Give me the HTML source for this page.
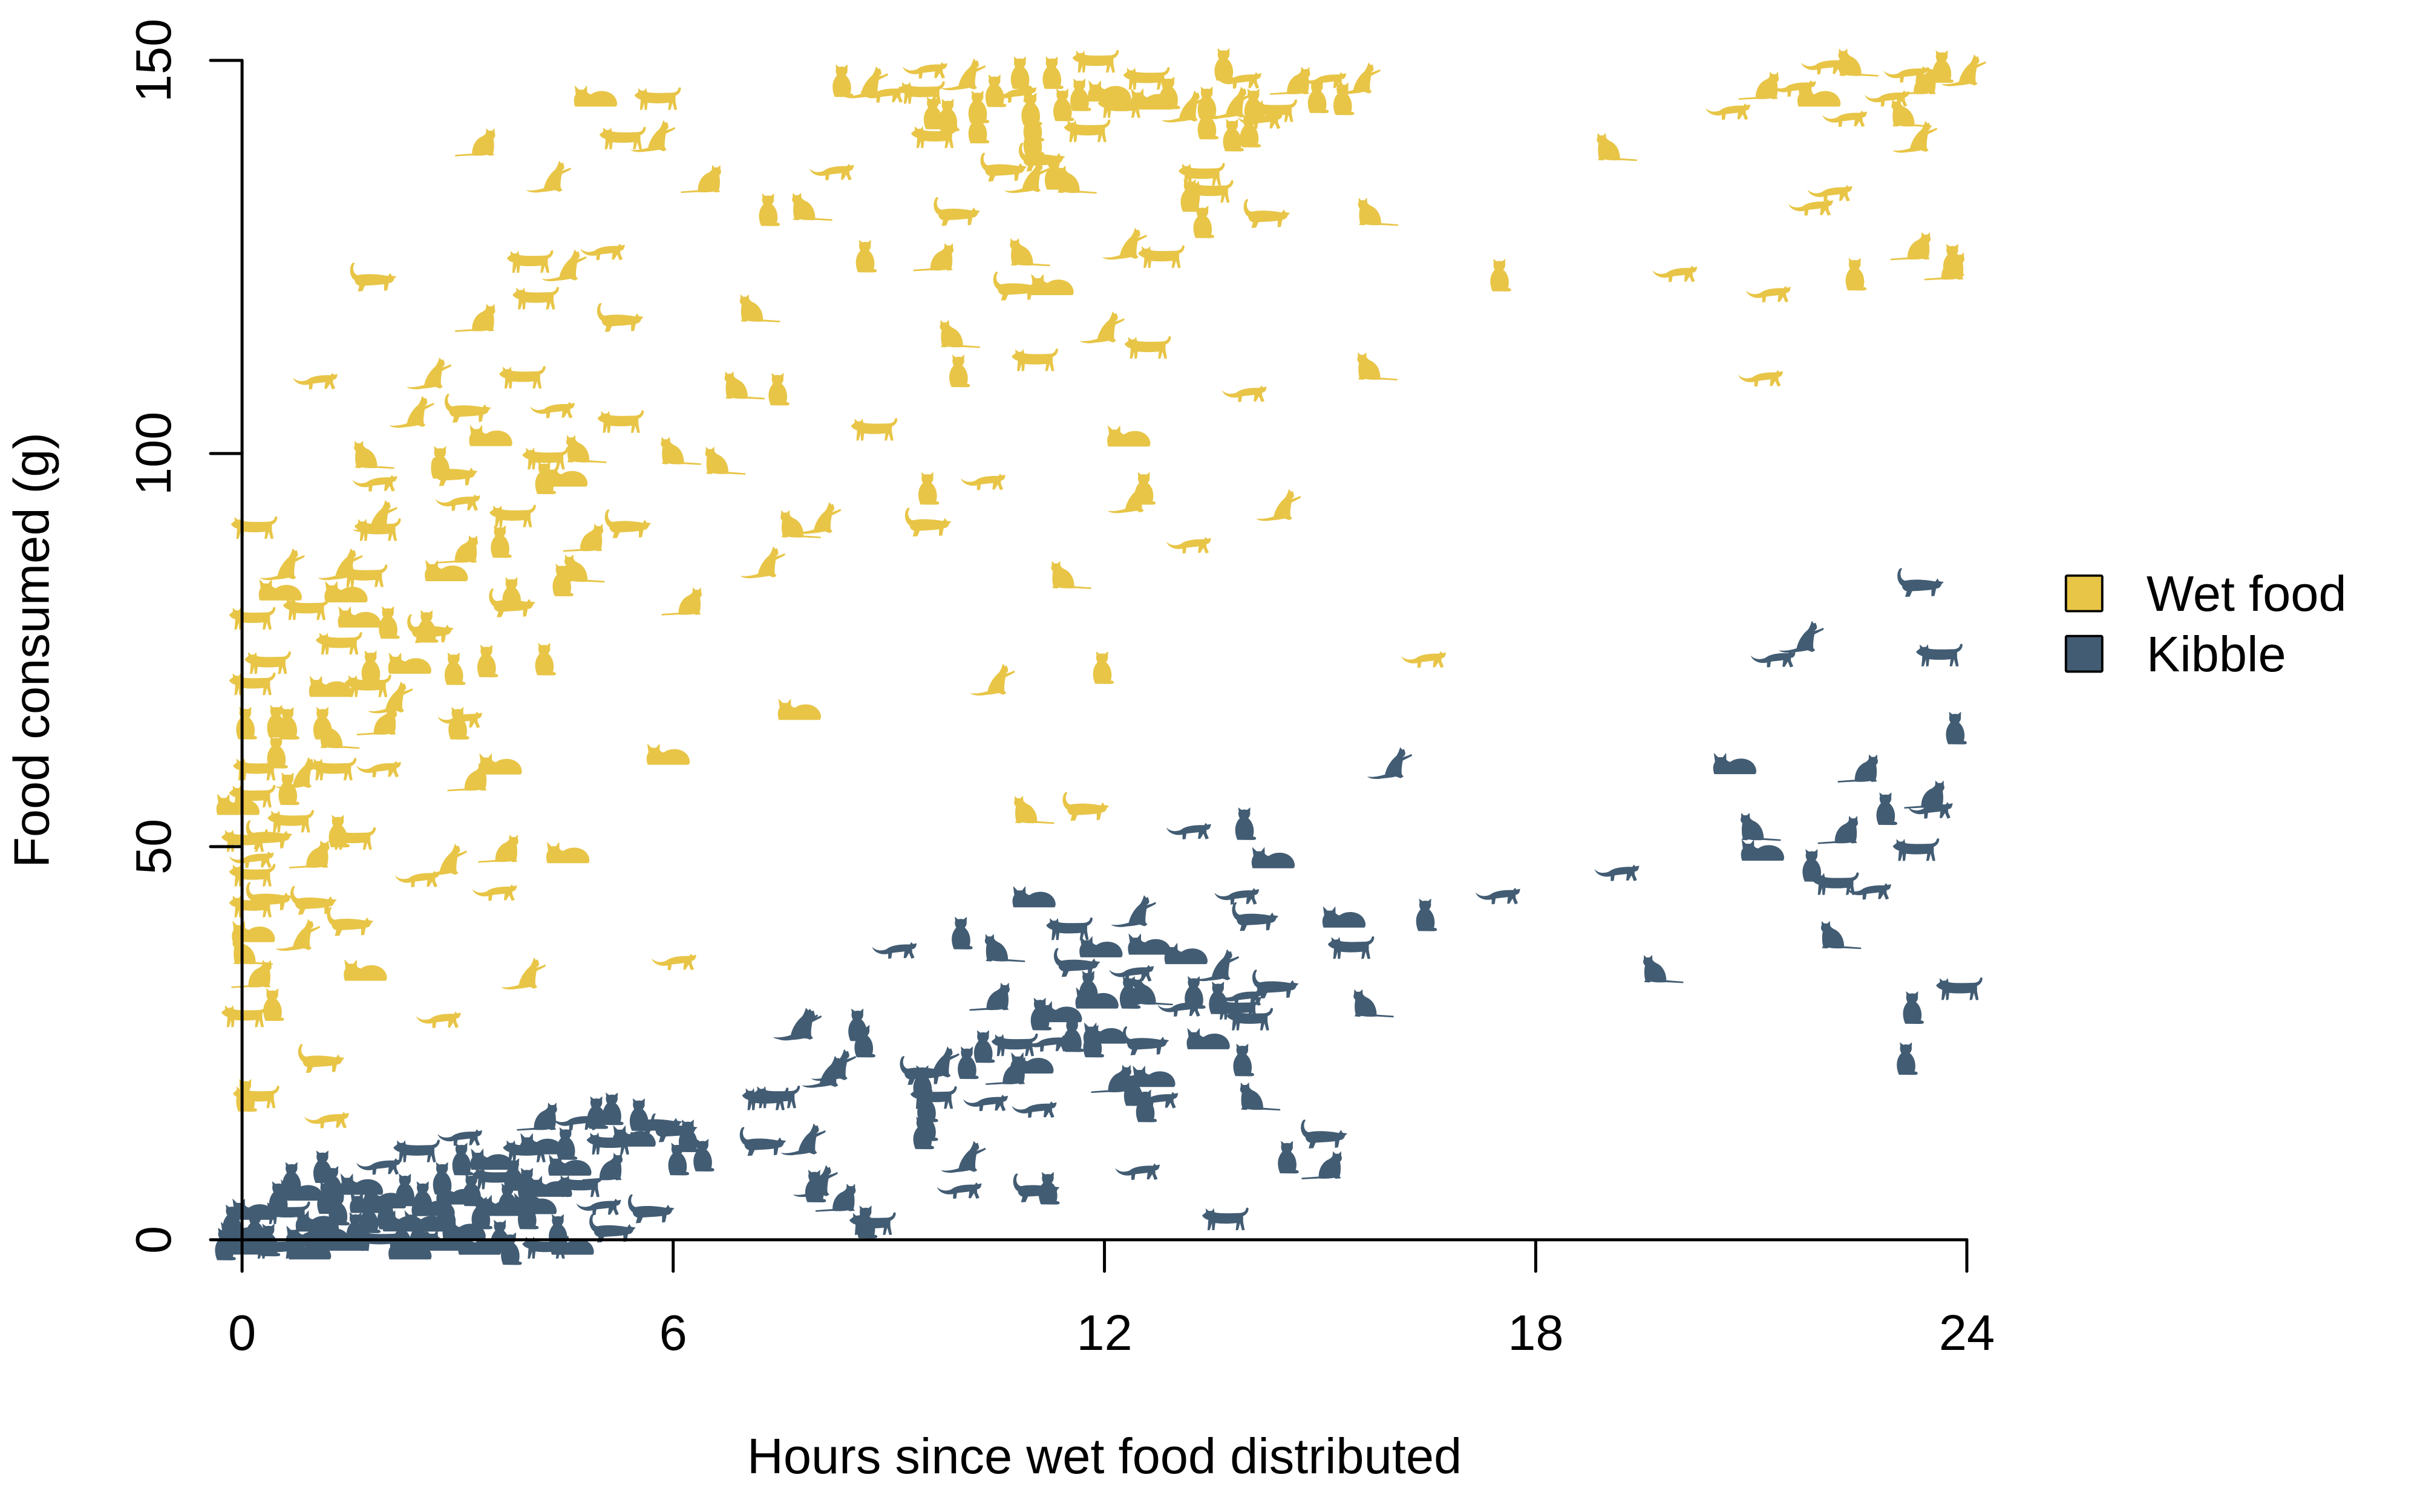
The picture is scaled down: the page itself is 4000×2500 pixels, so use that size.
<!DOCTYPE html>
<html>
<head>
<meta charset="utf-8">
<style>
html,body{margin:0;padding:0;background:#fff;}
svg{display:block;}
text{font-family:"Liberation Sans",Arial,sans-serif;fill:#000;}
</style>
</head>
<body>
<svg width="4000" height="2500" viewBox="0 0 1565.56 978.47" xmlns="http://www.w3.org/2000/svg">
<defs>
<path id="A" d="M-14,8.2 L-3,7.4 C-3,3 -1,-1.5 3,-3.5 C4.5,-4.2 5.5,-5 6,-6 L6.2,-9 L7.8,-7.4 L10,-7.4 L11.5,-9 L11.6,-6 C12.4,-4.5 11.8,-3 10.8,-2.3 C11.4,0.5 11.4,4.5 10.6,7.2 L11.4,8.5 L8,8.8 L7,8.2 C4,8.9 -1,8.8 -3,8.6 L-14,9.2 Z"/>
<path id="B" d="M-4.5,10.5 C-6.8,5 -6.2,0 -3,-3.5 C-3.8,-5 -4.1,-6.5 -3.6,-8 L-4,-10.5 L-1.8,-8.9 C-0.5,-9.2 0.8,-9.2 1.8,-8.9 L3.9,-10.5 L3.7,-7.5 C4,-5.8 3.4,-4.5 2.5,-3.5 C5.6,-1 6.9,4 5.6,8.4 C6.6,8.3 7.6,8.8 7.6,9.6 C7.6,10.6 6,10.6 4.5,10.6 Z"/>
<path id="C" d="M-15.5,-2.5 L-13,-4.5 L-13.2,-7 L-11.2,-5.3 L-9,-5.5 L-8,-7.2 L-7.5,-4.5 C-5,-3.6 3,-3.8 9,-4 C11,-4.2 12.5,-5 12.8,-6.5 C13,-7.8 14.6,-7.8 14.5,-6.5 C14.3,-4.3 12.8,-2.8 11,-2 L11,1.5 L12,7 L10.3,7.2 L9,2.5 L7.8,7 L6.2,7.2 L6.8,2.5 C2,3 -3,3 -7,2.5 L-7.5,7 L-9,7.2 L-9.2,2.5 L-10.5,7 L-12,7.2 L-11.5,0.5 C-13,0 -15,-1 -15.5,-2.5 Z"/>
<path id="D" d="M-11.5,2 C-14.5,0 -15.5,-5 -13.5,-8.5 C-12.5,-10 -11,-9.5 -11.8,-8.5 C-13.2,-6 -12.5,-2 -9.5,-1.3 C-4,-2.5 4,-2 10,-0.8 L11.5,-2.8 L12.4,-1 L15.5,-0.5 L14,1 C13.5,3 12,3.8 10.5,3.8 L9.5,8.5 L7.5,8.8 L7.5,4.5 C3,5.2 -2,5.2 -5,5.5 L-6.5,9 L-9.5,9.2 L-8.5,5.5 C-10.5,5 -11.5,3.5 -11.5,2 Z"/>
<path id="E" d="M-13,7 C-14,4 -14,1 -12.5,-1 L-13.3,-6.8 L-10.5,-4 L-7.5,-4 L-5.3,-6.8 L-5.2,-2.5 C-4.5,-1.5 -3.5,-1 -2.5,-1 C2,-4.5 12,-4 14,3.5 C14.5,5.5 14,7 13,7 Z"/>
<path id="F" d="M-15.5,8.5 C-12,9.3 -7,8.2 -4,7.2 C-3.2,3 -0.5,-1.5 3,-4.5 C4,-5.5 4.5,-7 5,-8 L5.8,-10.5 L7.2,-8.8 L8.3,-9.3 L9,-7.2 C9.5,-5.6 8.5,-4.8 7.3,-4 C9.5,-4.5 11.5,-5.2 12.5,-5.8 C13.5,-6.2 14,-5.2 13,-4.6 C11,-3.5 9,-2.6 7.5,-1.8 C7,1 6.5,4 6.8,7 L8,8.6 L6,9.6 L3,8.5 C0,9.3 -4,9.6 -6,9.8 C-10,10.5 -14,10 -15.5,8.5 Z"/>
<path id="G" d="M-15.5,-2.5 C-13,0 -9.5,0.5 -6,-1 C-3,-3.5 3,-4.2 9,-4 L10,-5.5 L11,-4.3 L13.5,-4.8 L13,-2.8 C12.5,-1.5 11.5,-1 10.5,-1 L10.5,1 L12,4.5 L10,5.2 L8.5,1.5 L6.5,4.8 L5,4.8 L5.5,0.5 C2,1 -1,1.2 -2.5,1.5 L-3,5 L-5,5.2 L-5,2 C-9,3 -14,1.5 -15.5,-2.5 Z"/>
<use id="Am" href="#A" transform="scale(-1,1)"/>
</defs>

<!-- Wet food (yellow) -->
<g fill="#E8C547">
<use href="#A" x="308.4" y="92"/>
<use href="#C" x="403.3" y="89.5"/>
<use href="#F" x="423.3" y="88.3"/>
<use href="#E" x="385" y="62"/>
<use href="#C" x="426" y="64"/>
<use href="#F" x="355.9" y="114.5"/>
<use href="#A" x="454.5" y="115.7"/>
<use href="#B" x="496.9" y="135.7"/>
<use href="#Am" x="524.4" y="133.7"/>
<use href="#D" x="241" y="179.4"/>
<use href="#C" x="343.4" y="169.4"/>
<use href="#F" x="365.9" y="171.9"/>
<use href="#G" x="390.8" y="163.2"/>
<use href="#C" x="347.1" y="193.1"/>
<use href="#A" x="308.4" y="205.6"/>
<use href="#D" x="400.8" y="205.6"/>
<use href="#Am" x="490.6" y="199.4"/>
<use href="#G" x="204.9" y="246.8"/>
<use href="#F" x="278.5" y="241.8"/>
<use href="#C" x="338.4" y="244.3"/>
<use href="#F" x="267.3" y="266.7"/>
<use href="#D" x="302.2" y="264.3"/>
<use href="#E" x="317.2" y="281.7"/>
<use href="#G" x="358.4" y="265.5"/>
<use href="#C" x="402" y="273"/>
<use href="#Am" x="480.7" y="249.3"/>
<use href="#B" x="503.1" y="251.8"/>
<use href="#Am" x="241" y="294.2"/>
<use href="#G" x="243.5" y="312.9"/>
<use href="#B" x="284.7" y="299.2"/>
<use href="#D" x="293.5" y="305.4"/>
<use href="#G" x="297.2" y="325.4"/>
<use href="#C" x="353.4" y="296.7"/>
<use href="#Am" x="378.3" y="290.5"/>
<use href="#B" x="352.1" y="309.2"/>
<use href="#E" x="365.9" y="307.9"/>
<use href="#Am" x="439.5" y="291.7"/>
<use href="#Am" x="468.2" y="298"/>
<use href="#C" x="164.9" y="341.6"/>
<use href="#F" x="243.5" y="334.1"/>
<use href="#C" x="244.8" y="342.9"/>
<use href="#C" x="332.2" y="334.1"/>
<use href="#B" x="323.4" y="350.4"/>
<use href="#A" x="378.3" y="347.9"/>
<use href="#D" x="405.8" y="339.1"/>
<use href="#Am" x="516.9" y="339.1"/>
<use href="#F" x="530.6" y="335.4"/>
<use href="#F" x="494.4" y="364.1"/>
<use href="#F" x="183.6" y="365.3"/>
<use href="#F" x="221.1" y="365.3"/>
<use href="#C" x="236.1" y="372.8"/>
<use href="#A" x="297.2" y="355.4"/>
<use href="#E" x="288.5" y="369.1"/>
<use href="#E" x="181.1" y="381.6"/>
<use href="#E" x="223.6" y="382.8"/>
<use href="#C" x="198.6" y="394.1"/>
<use href="#B" x="363.4" y="375.3"/>
<use href="#Am" x="377.1" y="367.8"/>
<use href="#D" x="330.9" y="390.3"/>
<use href="#B" x="330.9" y="384"/>
<use href="#A" x="442" y="389.1"/>
<use href="#C" x="163.7" y="400.3"/>
<use href="#E" x="232.3" y="399.1"/>
<use href="#B" x="251" y="402.8"/>
<use href="#B" x="276" y="405.3"/>
<use href="#D" x="278" y="407"/>
<use href="#C" x="219.8" y="416.5"/>
<use href="#C" x="173.7" y="429"/>
<use href="#B" x="239.8" y="431.5"/>
<use href="#E" x="264.8" y="429"/>
<use href="#B" x="293.5" y="432.7"/>
<use href="#B" x="314.7" y="427.7"/>
<use href="#B" x="352.1" y="426.5"/>
<use href="#E" x="516.9" y="458.9"/>
<use href="#E" x="213.6" y="444"/>
<use href="#C" x="238.6" y="444"/>
<use href="#C" x="163.7" y="442.7"/>
<use href="#F" x="253.5" y="451.5"/>

<use href="#B" x="158.7" y="467.9"/>
<use href="#B" x="178.7" y="466.7"/>
<use href="#B" x="186.1" y="468"/>
<use href="#B" x="208.6" y="468"/>
<use href="#Am" x="218.6" y="475.4"/>
<use href="#A" x="244.8" y="466.7"/>
<use href="#B" x="296" y="468"/>
<use href="#G" x="298.5" y="466"/>
<use href="#E" x="432" y="487.9"/>
<use href="#E" x="323.4" y="494.2"/>
<use href="#A" x="303.5" y="502.9"/>
<use href="#B" x="178.7" y="486.7"/>
<use href="#C" x="166.2" y="497.9"/>
<use href="#F" x="193.6" y="500.4"/>
<use href="#C" x="216.1" y="497.9"/>
<use href="#G" x="246" y="497.9"/>
<use href="#C" x="163.7" y="515.4"/>
<use href="#B" x="186.1" y="510.4"/>
<use href="#E" x="153.7" y="520.4"/>
<use href="#C" x="188.6" y="531.6"/>
<use href="#D" x="173.7" y="540.3"/>
<use href="#B" x="218.6" y="537.8"/>
<use href="#C" x="228.6" y="542.8"/>
<use href="#A" x="201.1" y="552.8"/>
<use href="#C" x="158.7" y="544.1"/>
<use href="#G" x="163.7" y="556.5"/>
<use href="#C" x="163.7" y="566.5"/>
<use href="#F" x="288.5" y="556.5"/>
<use href="#A" x="323.4" y="549.1"/>
<use href="#E" x="367.1" y="551.6"/>
<use href="#G" x="271" y="569"/>
<use href="#G" x="321" y="577.8"/>
<use href="#D" x="202.4" y="582.8"/>
<use href="#C" x="163.7" y="586.5"/>
<use href="#D" x="173.7" y="580.3"/>
<use href="#D" x="226.1" y="596.5"/>
<use href="#E" x="163.7" y="602.7"/>
<use href="#F" x="193.6" y="605.2"/>
<use href="#Am" x="162.4" y="615.2"/>
<use href="#E" x="236.1" y="627.7"/>
<use href="#F" x="339.6" y="630.2"/>
<use href="#G" x="437" y="622.7"/>
<use href="#A" x="163.7" y="630.2"/>
<use href="#B" x="176.2" y="650.1"/>
<use href="#C" x="158.7" y="657.6"/>
<use href="#G" x="284.7" y="660.1"/>
<use href="#D" x="207.4" y="685.1"/>
<use href="#B" x="158.7" y="708.8"/>
<use href="#C" x="166.2" y="710"/>
<use href="#G" x="212.3" y="725"/>

<use href="#B" x="544.5" y="52.2"/>
<use href="#F" x="561" y="53.5"/>
<use href="#G" x="599.4" y="45.7"/>
<use href="#F" x="624.1" y="48.3"/>
<use href="#B" x="659.8" y="47"/>
<use href="#B" x="680.4" y="47"/>
<use href="#C" x="709.3" y="39.8"/>
<use href="#C" x="596.7" y="60"/>
<use href="#G" x="572" y="61.3"/>
<use href="#B" x="603.5" y="73.1"/>
<use href="#B" x="613.1" y="74.4"/>
<use href="#B" x="632.4" y="69.1"/>
<use href="#B" x="643.4" y="58.7"/>
<use href="#G" x="657.1" y="61.3"/>
<use href="#C" x="604.9" y="88.7"/>
<use href="#B" x="632.4" y="82.2"/>
<use href="#B" x="666.7" y="70.5"/>
<use href="#B" x="687.3" y="67.8"/>
<use href="#B" x="698.3" y="61.3"/>
<use href="#E" x="717.5" y="58.7"/>
<use href="#C" x="742.2" y="50.9"/>
<use href="#C" x="725.7" y="69.1"/>
<use href="#E" x="745" y="63.9"/>
<use href="#B" x="755.9" y="60"/>
<use href="#F" x="766.9" y="69.1"/>
<use href="#B" x="780.7" y="66.5"/>
<use href="#B" x="791.6" y="41.7"/>
<use href="#G" x="802.6" y="52.2"/>
<use href="#A" x="835.6" y="52.2"/>
<use href="#G" x="857.5" y="52.2"/>
<use href="#F" x="879.5" y="50.9"/>
<use href="#B" x="852" y="62.6"/>
<use href="#B" x="868.5" y="63.9"/>
<use href="#F" x="797.1" y="66.5"/>
<use href="#B" x="810.9" y="67.8"/>
<use href="#C" x="824.6" y="71.8"/>
<use href="#G" x="816.3" y="78.3"/>
<use href="#B" x="780.7" y="79.6"/>
<use href="#B" x="797.1" y="87.4"/>
<use href="#B" x="808.1" y="84.8"/>
<use href="#B" x="668" y="80.9"/>
<use href="#B" x="668" y="90"/>
<use href="#C" x="703.8" y="84.8"/>
<use href="#D" x="673.6" y="101.8"/>
<use href="#D" x="648.8" y="108.3"/>
<use href="#B" x="681.8" y="112.2"/>
<use href="#Am" x="695.5" y="116.1"/>
<use href="#F" x="665.3" y="114.8"/>
<use href="#G" x="539" y="111.5"/>
<use href="#C" x="777.9" y="112.9"/>
<use href="#C" x="783.4" y="124"/>
<use href="#B" x="769.7" y="126.5"/>
<use href="#B" x="777.9" y="143.5"/>
<use href="#D" x="819.1" y="138.3"/>
<use href="#Am" x="890.5" y="137"/>
<use href="#D" x="618.6" y="137"/>
<use href="#B" x="559.6" y="165.7"/>
<use href="#A" x="604.9" y="166.3"/>
<use href="#Am" x="665.3" y="163.1"/>
<use href="#F" x="728.5" y="157.9"/>
<use href="#C" x="751.8" y="166.3"/>
<use href="#D" x="657.1" y="185.3"/>
<use href="#E" x="680.4" y="184"/>

<use href="#A" x="1138.8" y="55.4"/>
<use href="#G" x="1118.9" y="72.4"/>
<use href="#G" x="1161.4" y="57.4"/>
<use href="#E" x="1176.5" y="62"/>
<use href="#G" x="1180.6" y="43"/>
<use href="#Am" x="1201.2" y="40.4"/>
<use href="#G" x="1194.4" y="77"/>
<use href="#G" x="1234.2" y="48.3"/>
<use href="#A" x="1241" y="52.2"/>
<use href="#B" x="1256.2" y="43"/>
<use href="#F" x="1271.3" y="45.7"/>
<use href="#G" x="1221.8" y="63.9"/>
<use href="#Am" x="1235.6" y="73.1"/>
<use href="#F" x="1239.7" y="88.7"/>
<use href="#G" x="1184.8" y="125.2"/>
<use href="#G" x="1172.4" y="134.4"/>
<use href="#A" x="1237" y="159.2"/>
<use href="#B" x="1199.9" y="177.4"/>
<use href="#A" x="1258.9" y="172.2"/>
<use href="#B" x="1263" y="168.3"/>
<use href="#G" x="1084.5" y="177.4"/>
<use href="#G" x="1145" y="190.5"/>

<use href="#C" x="566" y="278"/>
<use href="#B" x="600" y="316"/>
<use href="#G" x="637" y="312"/>
<use href="#D" x="600" y="338"/>
<use href="#Am" x="668" y="524"/>
<use href="#D" x="702" y="522"/>
<use href="#F" x="643" y="440"/>
<use href="#Am" x="692" y="372"/>
<use href="#B" x="713" y="432"/>
<use href="#F" x="732" y="322"/>
<use href="#B" x="740" y="316"/>
<use href="#E" x="730" y="282"/>
<use href="#G" x="770" y="353"/>
<use href="#F" x="828" y="327"/>
<use href="#G" x="806" y="255"/>
<use href="#Am" x="890" y="237"/>
<use href="#G" x="922" y="427"/>
<use href="#F" x="714" y="212"/>
<use href="#C" x="743" y="225"/>
<use href="#C" x="670" y="233"/>
<use href="#B" x="620" y="240"/>
<use href="#Am" x="620" y="216"/>
<use href="#B" x="970" y="178"/>
<use href="#Am" x="1045" y="95"/>
<use href="#G" x="1140" y="245"/>
</g>

<!-- Kibble (blue) -->
<g fill="#425C73">
<use href="#F" x="515.6" y="662.6"/>
<use href="#F" x="534.3" y="693.8"/>
<use href="#C" x="495.6" y="711.3"/>
<use href="#C" x="503" y="710"/>
<use href="#D" x="493.1" y="738.8"/>
<use href="#F" x="520.6" y="737.5"/>
<use href="#B" x="526.8" y="767.5"/>
<use href="#A" x="348.4" y="722.5"/>
<use href="#B" x="385.8" y="720"/>
<use href="#B" x="395.8" y="717.5"/>
<use href="#B" x="413.3" y="721.3"/>
<use href="#D" x="435.7" y="730"/>
<use href="#D" x="425.8" y="726.3"/>
<use href="#G" x="373.3" y="726.3"/>
<use href="#G" x="298.5" y="736.3"/>
<use href="#B" x="365.9" y="740"/>
<use href="#C" x="340.9" y="745"/>
<use href="#B" x="438.2" y="750"/>
<use href="#B" x="454.5" y="747.5"/>
<use href="#A" x="390.8" y="755"/>
<use href="#E" x="368.4" y="753.8"/>
<use href="#B" x="188.6" y="762.5"/>
<use href="#B" x="208.6" y="755"/>
<use href="#G" x="246" y="755"/>
<use href="#E" x="233.6" y="766.2"/>
<use href="#B" x="286" y="762.5"/>
<use href="#B" x="298.5" y="750"/>
<use href="#C" x="320.9" y="762.5"/>
<use href="#B" x="340.9" y="766.2"/>
<use href="#E" x="355.9" y="767.5"/>
<use href="#C" x="375.8" y="767.5"/>
<use href="#B" x="211.1" y="775"/>
<use href="#E" x="248.5" y="775"/>
<use href="#B" x="273.5" y="775"/>
<use href="#E" x="296" y="772.5"/>
<use href="#B" x="328.4" y="776.2"/>
<use href="#E" x="345.9" y="778.7"/>
<use href="#G" x="388.3" y="781.2"/>
<use href="#D" x="420.8" y="782.4"/>
<use href="#E" x="163.7" y="782.4"/>
<use href="#C" x="186.1" y="785"/>
<use href="#B" x="218.6" y="782.4"/>
<use href="#B" x="238.6" y="787.4"/>
<use href="#E" x="261" y="789.9"/>
<use href="#B" x="288.5" y="784.9"/>
<use href="#B" x="311" y="784.9"/>
<use href="#E" x="323.4" y="779.9"/>
<use href="#B" x="340.9" y="784.9"/>
<use href="#D" x="395.8" y="794.9"/>
<use href="#E" x="156.2" y="797.4"/>
<use href="#B" x="173.7" y="802.4"/>
<use href="#E" x="198.6" y="799.9"/>
<use href="#E" x="223.6" y="802.4"/>
<use href="#C" x="246" y="802.4"/>
<use href="#B" x="271" y="798.7"/>
<use href="#E" x="288.5" y="802.4"/>
<use href="#B" x="323.4" y="799.9"/>
<use href="#B" x="360.9" y="796.2"/>
<use href="#C" x="353.4" y="807.4"/>
<use href="#E" x="158.7" y="804.9"/>
<use href="#C" x="178.7" y="807.4"/>
<use href="#B" x="150" y="790"/>
<use href="#B" x="165" y="795"/>
<use href="#E" x="205" y="790"/>
<use href="#B" x="230" y="795"/>
<use href="#B" x="260" y="800"/>
<use href="#E" x="300" y="795"/>
<use href="#E" x="275" y="790"/>
<use href="#B" x="250" y="785"/>
<use href="#E" x="212" y="798"/>
<use href="#E" x="195" y="770"/>
<use href="#B" x="215" y="765"/>
<use href="#B" x="262" y="770"/>
<use href="#E" x="280" y="780"/>
<use href="#B" x="305" y="770"/>
<use href="#E" x="318" y="750"/>
<use href="#B" x="332" y="760"/>
<use href="#E" x="350" y="740"/>
<use href="#C" x="395" y="740"/>
<use href="#E" x="410" y="735"/>
<use href="#B" x="445" y="735"/>
<use href="#C" x="270" y="745"/>
<use href="#B" x="180" y="775"/>
<use href="#E" x="240" y="778"/>
<use href="#E" x="200" y="808"/>
<use href="#E" x="265" y="808"/>
<use href="#E" x="310" y="805"/>
<use href="#B" x="330" y="808"/>
<use href="#E" x="370" y="805"/>
<use href="#B" x="145" y="805"/>

<use href="#E" x="823.4" y="554.9"/>
<use href="#E" x="668.7" y="580.2"/>
<use href="#G" x="801.1" y="580.2"/>
<use href="#F" x="734.3" y="589.8"/>
<use href="#D" x="811.6" y="593.3"/>
<use href="#E" x="869.2" y="593.3"/>
<use href="#B" x="621.6" y="603.8"/>
<use href="#G" x="579.6" y="615.2"/>
<use href="#Am" x="649.1" y="613.4"/>
<use href="#C" x="692.3" y="601.2"/>
<use href="#E" x="712" y="612.5"/>
<use href="#E" x="743.4" y="610.8"/>
<use href="#E" x="767" y="616.9"/>
<use href="#C" x="874.5" y="613.4"/>
<use href="#D" x="696.3" y="623"/>
<use href="#F" x="788" y="624.8"/>
<use href="#G" x="733" y="630"/>
<use href="#D" x="824.7" y="637"/>
<use href="#B" x="704.1" y="638.7"/>
<use href="#B" x="730.3" y="642.2"/>
<use href="#Am" x="744.8" y="641.4"/>
<use href="#B" x="772.3" y="642.2"/>
<use href="#B" x="788" y="645.7"/>
<use href="#G" x="803.7" y="645.7"/>
<use href="#A" x="641.2" y="644.9"/>
<use href="#E" x="709.4" y="645.7"/>
<use href="#Am" x="887.6" y="649.2"/>
<use href="#G" x="764.4" y="652.7"/>
<use href="#C" x="801.1" y="652.7"/>
<use href="#C" x="809" y="659.7"/>
<use href="#B" x="672.7" y="656.2"/>
<use href="#E" x="685.8" y="654.5"/>
<use href="#F" x="518" y="663.2"/>
<use href="#B" x="554.7" y="663.2"/>
<use href="#B" x="558.7" y="673.7"/>
<use href="#F" x="540.3" y="689.4"/>
<use href="#B" x="693.6" y="670.2"/>
<use href="#B" x="706.7" y="673.7"/>
<use href="#E" x="714.6" y="668.4"/>
<use href="#D" x="740.8" y="673.7"/>
<use href="#E" x="781.4" y="672"/>
<use href="#B" x="803.7" y="685.9"/>
<use href="#B" x="636" y="677.2"/>
<use href="#C" x="656.9" y="676.3"/>
<use href="#G" x="677.9" y="675.4"/>
<use href="#E" x="667.4" y="687.7"/>
<use href="#A" x="651.7" y="692.9"/>
<use href="#B" x="625.5" y="687.7"/>
<use href="#F" x="607.1" y="687.7"/>
<use href="#D" x="596.7" y="692.9"/>
<use href="#B" x="596.7" y="699.9"/>
<use href="#A" x="719.9" y="698.1"/>
<use href="#E" x="746.1" y="696.4"/>
<use href="#B" x="733" y="705.1"/>
<use href="#G" x="748.7" y="712.1"/>
<use href="#B" x="740.8" y="715.6"/>
<use href="#Am" x="814.2" y="709.5"/>
<use href="#B" x="599.3" y="715.6"/>
<use href="#C" x="604.5" y="710.4"/>
<use href="#G" x="638.6" y="713.9"/>
<use href="#G" x="670.1" y="718.2"/>
<use href="#B" x="599.3" y="727.8"/>
<use href="#B" x="596.7" y="733.1"/>
<use href="#D" x="856.1" y="734"/>
<use href="#F" x="624.2" y="748.8"/>
<use href="#B" x="832.6" y="748.8"/>
<use href="#A" x="856.1" y="754"/>
<use href="#G" x="736.9" y="758.4"/>
<use href="#F" x="528.5" y="764.5"/>
<use href="#A" x="541.6" y="775"/>
<use href="#G" x="621.6" y="770.6"/>
<use href="#B" x="677.9" y="768.9"/>
<use href="#D" x="670" y="768.9"/>
<use href="#C" x="793.2" y="789"/>
<use href="#B" x="560" y="790.7"/>
<use href="#C" x="565" y="792"/>
<use href="#B" x="805" y="533"/>
<use href="#G" x="770" y="538"/>

<use href="#D" x="1242" y="377.1"/>
<use href="#F" x="1166.3" y="412.3"/>
<use href="#G" x="1148.1" y="426.7"/>
<use href="#C" x="1255.1" y="424.1"/>
<use href="#B" x="1264.8" y="471.1"/>
<use href="#A" x="1202.9" y="497.2"/>
<use href="#A" x="1245.9" y="514.1"/>
<use href="#B" x="1219.8" y="523.3"/>
<use href="#G" x="1249.8" y="524.6"/>

<use href="#F" x="900" y="494"/>
<use href="#B" x="922" y="592"/>
<use href="#G" x="970" y="580"/>
<use href="#G" x="1047" y="565"/>
<use href="#Am" x="1075" y="627"/>
<use href="#E" x="1122" y="494"/>
<use href="#Am" x="1138" y="535"/>
<use href="#E" x="1140" y="550"/>
<use href="#B" x="1172" y="560"/>
<use href="#A" x="1190" y="537"/>
<use href="#C" x="1188" y="572"/>
<use href="#G" x="1210" y="577"/>
<use href="#Am" x="1190" y="605"/>
<use href="#B" x="1237" y="652"/>
<use href="#C" x="1268" y="640"/>
<use href="#B" x="1233" y="685"/>
<use href="#C" x="1240" y="550"/>
</g>

<!-- Axes -->
<g stroke="#000" stroke-width="1.95" stroke-linecap="round" fill="none">
<line x1="156.6" y1="39.1" x2="156.6" y2="802.3"/>
<line x1="136.2" y1="802.3" x2="156.6" y2="802.3"/>
<line x1="136.2" y1="547.9" x2="156.6" y2="547.9"/>
<line x1="136.2" y1="293.5" x2="156.6" y2="293.5"/>
<line x1="136.2" y1="39.1" x2="156.6" y2="39.1"/>
<line x1="156.6" y1="802.3" x2="1272.4" y2="802.3"/>
<line x1="156.6" y1="802.3" x2="156.6" y2="822.7"/>
<line x1="435.5" y1="802.3" x2="435.5" y2="822.7"/>
<line x1="714.5" y1="802.3" x2="714.5" y2="822.7"/>
<line x1="993.5" y1="802.3" x2="993.5" y2="822.7"/>
<line x1="1272.4" y1="802.3" x2="1272.4" y2="822.7"/>
</g>

<g font-size="32.5" text-anchor="middle">
<text x="156.6" y="873.5">0</text>
<text x="435.5" y="873.5">6</text>
<text x="714.5" y="873.5">12</text>
<text x="993.5" y="873.5">18</text>
<text x="1272.4" y="873.5">24</text>
<text transform="translate(110.4,802.3) rotate(-90)">0</text>
<text transform="translate(110.4,547.9) rotate(-90)">50</text>
<text transform="translate(110.4,293.5) rotate(-90)">100</text>
<text transform="translate(110.4,39.1) rotate(-90)">150</text>
<text x="714.5" y="953.5">Hours since wet food distributed</text>
<text transform="translate(31.5,420.7) rotate(-90)">Food consumed (g)</text>
</g>

<!-- Legend -->
<rect x="1336.5" y="372.5" width="23.5" height="23" fill="#E8C547" stroke="#000" stroke-width="1.5" rx="0.8"/>
<rect x="1336.5" y="411.6" width="23.5" height="23" fill="#425C73" stroke="#000" stroke-width="1.5" rx="0.8"/>
<g font-size="32.5">
<text x="1388.6" y="395.3">Wet food</text>
<text x="1388.6" y="434.4">Kibble</text>
</g>
</svg>
</body>
</html>
